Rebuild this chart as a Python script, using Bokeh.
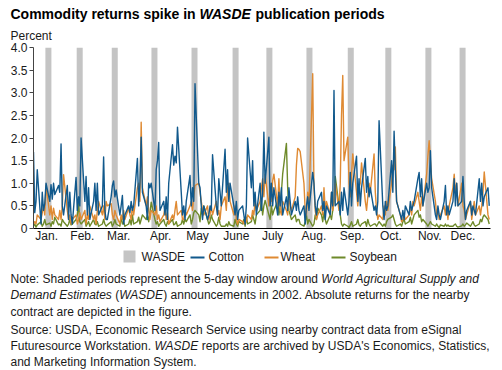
import pandas as pd
from bokeh.plotting import figure
from bokeh.layouts import column
from bokeh.models import Range1d, FixedTicker
from bokeh.core.properties import value
from bokeh.embed import file_html
from bokeh.resources import INLINE

YEAR = 2002

# ---------------- data ----------------
month_labels = ["Jan.", "Feb.", "Mar.", "Apr.", "May", "June",
                "July", "Aug.", "Sep.", "Oct.", "Nov.", "Dec."]
# day-of-year (0 = Jan 1) where each month label sits
month_label_days = [10.5, 39, 68, 101.5, 131, 162, 191, 224, 254.5, 285.5, 316.5, 343]

# 5-day WASDE windows (start day-of-year, length in days)
wasde_start_days = [9.5, 34.5, 62.5, 94.2, 126.2, 159, 186, 218, 251, 281, 313, 340.3]
wasde_window_days = 4.8

y_ticks = [0, 0.5, 1.0, 1.5, 2.0, 2.5, 3.0, 3.5, 4.0]
y_tick_labels = ["0", "0.5", "1.0", "1.5", "2.0", "2.5", "3.0", "3.5", "4.0"]

legend_labels = ["WASDE", "Cotton", "Wheat", "Soybean"]

# absolute daily returns (percent), one list per month of trading days
cotton = [
    [1.69, 0.35, 0.6, 1.3, 0.1, 0.8, 0.4, 0.55, 1.0, 0.6, 0.97, 0.65, 1.0, 0.75, 0.95, 0.8, 1.87, 0.5, 0.3, 0.95, 0.2, 0.8, 0.3],
    [0.1, 1.13, 0.4, 0.7, 0.5, 2.0, 0.6, 1.15, 0.3, 0.9, 0.2, 0.6, 1.0, 0.4, 1.0, 0.3, 0.5, 1.58, 0.4, 0.2],
    [0.2, 0.7, 0.95, 1.05, 0.7, 0.85, 0.3, 0.5, 0.73, 0.1, 0.3, 0.5, 0.35, 0.6, 0.4, 0.5, 1.55, 0.5, 1.0, 2.02, 0.8],
    [0.5, 0.2, 1.0, 0.9, 1.0, 0.4, 1.3, 1.5, 1.9, 0.4, 0.6, 0.3, 0.7, 0.2, 1.0, 1.85, 1.4, 1.6, 1.45, 2.24, 0.8, 0.3],
    [0.5, 0.2, 0.6, 1.17, 0.5, 0.9, 0.6, 3.2, 1.0, 0.9, 0.5, 0.2, 0.5, 0.2, 0.3, 0.5, 0.4, 1.63, 0.5, 0.3, 1.1, 0.8, 0.5],
    [1.75, 0.8, 1.3, 0.6, 1.0, 0.5, 0.3, 0.6, 0.2, 0.4, 0.5, 0.3, 0.1, 0.5, 2.0, 0.9, 1.5, 0.5, 0.8, 0.3],
    [1.0, 0.4, 0.8, 2.13, 1.0, 2.02, 0.5, 1.0, 0.5, 0.9, 0.3, 0.8, 0.5, 0.9, 0.3, 0.7, 0.4, 0.9, 0.6, 0.3, 0.6, 0.4, 0.7],
    [0.4, 0.3, 0.5, 0.1, 0.5, 0.7, 0.4, 1.24, 1.0, 0.5, 0.3, 0.6, 0.8, 0.4, 0.6, 0.2, 0.5, 0.3, 0.8, 0.5, 3.05, 0.5],
    [0.6, 0.3, 0.8, 0.4, 0.9, 0.3, 0.6, 1.24, 0.5, 1.0, 1.6, 0.6, 1.1, 0.5, 0.9, 1.55, 0.8, 1.15, 0.7, 0.9, 0.4],
    [0.5, 0.3, 0.6, 2.38, 0.5, 0.2, 0.6, 0.4, 0.5, 1.5, 0.8, 2.15, 1.3, 0.6, 0.3, 0.2, 0.4, 0.2, 0.5, 0.3, 0.6, 0.4, 0.5],
    [0.6, 1.1, 1.24, 0.7, 1.1, 0.5, 1.0, 0.8, 0.9, 1.72, 0.9, 0.3, 0.2, 0.5, 0.3, 0.2, 0.6, 0.95, 0.3, 0.5, 0.3],
    [0.6, 1.1, 0.5, 1.0, 0.5, 0.6, 1.15, 0.6, 0.2, 0.4, 0.6, 0.3, 0.5, 0.4, 0.3, 1.1, 0.6, 1.0, 0.5, 0.7, 0.9, 0.5],
]
wheat = [
    [0.1, 0.15, 0.1, 0.3, 0.2, 0.35, 0.5, 0.3, 0.95, 0.3, 0.5, 0.2, 0.45, 0.3, 0.2, 0.4, 0.2, 0.5, 1.19, 0.4, 0.2, 0.3, 0.1],
    [0.2, 0.3, 0.1, 0.2, 0.35, 0.2, 0.4, 0.1, 0.3, 0.2, 0.5, 0.2, 0.3, 0.1, 0.4, 0.6, 0.3, 0.5, 0.2, 0.6],
    [0.5, 0.55, 0.3, 0.2, 0.4, 0.3, 0.1, 0.3, 0.2, 0.4, 0.2, 0.45, 0.3, 0.2, 0.5, 0.3, 0.9, 1.0, 0.6, 2.35, 0.9],
    [0.5, 0.7, 0.4, 0.2, 0.4, 0.3, 0.5, 0.2, 0.3, 0.15, 0.3, 0.45, 0.2, 0.35, 0.1, 0.3, 0.2, 0.4, 0.6, 0.3, 0.4, 0.2],
    [0.2, 0.4, 0.3, 0.5, 0.6, 0.4, 0.7, 0.95, 1.0, 0.8, 0.6, 0.4, 0.3, 0.5, 0.2, 0.3, 0.5, 0.3, 0.6, 0.3, 0.4, 0.2, 0.5],
    [0.7, 0.4, 0.9, 1.0, 0.6, 0.3, 0.5, 0.2, 0.1, 0.2, 0.15, 0.1, 0.2, 0.15, 0.3, 0.2, 0.4, 0.3, 0.6, 0.4],
    [0.6, 0.9, 1.1, 0.7, 1.2, 0.5, 0.8, 0.6, 1.06, 1.2, 0.5, 1.1, 0.4, 0.3, 0.6, 0.4, 0.3, 0.7, 0.5, 0.4, 0.7, 1.4, 1.77],
    [1.75, 1.7, 1.0, 0.4, 0.3, 0.8, 0.5, 3.42, 0.9, 0.4, 0.2, 0.3, 0.5, 0.3, 0.9, 0.4, 0.6, 0.3, 0.8, 0.4, 0.6, 1.0],
    [0.4, 1.0, 2.5, 3.38, 1.5, 2.02, 1.0, 0.7, 1.2, 1.65, 0.8, 0.5, 0.9, 1.0, 1.45, 0.6, 0.4, 0.7, 1.0, 0.8, 1.65],
    [0.8, 0.4, 0.2, 0.3, 0.2, 0.5, 0.3, 0.6, 0.4, 1.0, 1.4, 1.3, 1.8, 0.6, 0.3, 0.15, 0.2, 0.3, 0.2, 0.3, 0.5, 0.3, 0.6],
    [0.5, 0.8, 0.6, 0.4, 0.7, 0.5, 1.2, 1.6, 1.94, 1.5, 1.1, 0.6, 0.3, 0.4, 0.2, 0.3, 0.5, 0.3, 0.5, 0.2, 0.5],
    [0.9, 1.2, 0.8, 1.0, 0.5, 1.0, 0.5, 0.4, 0.2, 0.3, 0.6, 0.2, 0.4, 0.6, 0.3, 0.5, 0.3, 0.5, 0.8, 1.25, 0.3, 0.2],
]
soybean = [
    [0.05, 0.1, 0.03, 0.08, 0.15, 0.05, 0.1, 0.2, 0.08, 0.12, 0.05, 0.15, 0.1, 0.25, 0.08, 0.1, 0.05, 0.2, 0.15, 0.05, 0.1, 0.2, 0.08],
    [0.1, 0.2, 0.3, 0.55, 0.15, 0.1, 0.2, 0.05, 0.1, 0.15, 0.05, 0.2, 0.1, 0.08, 0.15, 0.05, 0.1, 0.2, 0.1, 0.05],
    [0.08, 0.15, 0.05, 0.1, 0.2, 0.1, 0.05, 0.25, 0.1, 0.15, 0.05, 0.1, 0.2, 0.08, 0.3, 0.1, 0.15, 0.25, 0.1, 0.2, 0.3],
    [0.2, 0.3, 0.15, 0.35, 0.58, 0.2, 0.1, 0.15, 0.05, 0.1, 0.2, 0.1, 0.05, 0.15, 0.1, 0.2, 0.08, 0.1, 0.15, 0.05, 0.1, 0.2],
    [0.1, 0.2, 0.15, 0.3, 0.1, 0.2, 0.35, 0.4, 0.3, 0.15, 0.45, 0.3, 0.5, 0.2, 0.1, 0.15, 0.3, 0.2, 0.05, 0.1, 0.25, 0.1, 0.05],
    [0.05, 0.1, 0.05, 0.15, 0.08, 0.05, 0.2, 0.1, 0.05, 0.15, 0.1, 0.2, 0.05, 0.25, 0.1, 0.15, 0.3, 0.2, 0.1, 0.3],
    [0.4, 0.6, 0.3, 0.5, 0.62, 0.3, 0.2, 0.5, 0.3, 0.4, 0.6, 0.3, 0.5, 0.8, 1.2, 1.88, 0.9, 0.4, 0.3, 0.2, 0.3, 0.15, 0.2],
    [0.2, 0.1, 0.05, 0.15, 0.3, 0.1, 0.2, 0.05, 0.1, 0.3, 0.2, 0.45, 0.3, 0.15, 0.35, 0.2, 0.1, 0.3, 0.2, 0.4, 0.6, 1.15],
    [0.5, 0.3, 0.1, 0.05, 0.1, 0.05, 0.02, 0.08, 0.15, 0.05, 0.1, 0.2, 0.08, 0.05, 0.1, 0.15, 0.05, 0.2, 0.1, 0.05, 0.1],
    [0.1, 0.05, 0.1, 0.15, 0.05, 0.1, 0.05, 0.15, 0.2, 0.25, 0.3, 0.2, 0.1, 0.05, 0.1, 0.05, 0.15, 0.2, 0.1, 0.15, 0.25, 0.1, 0.2],
    [0.3, 0.4, 0.25, 0.3, 0.15, 0.2, 0.1, 0.05, 0.1, 0.15, 0.1, 0.05, 0.1, 0.05, 0.02, 0.08, 0.05, 0.1, 0.05, 0.08, 0.05],
    [0.05, 0.08, 0.1, 0.05, 0.03, 0.06, 0.1, 0.05, 0.08, 0.12, 0.05, 0.1, 0.15, 0.08, 0.05, 0.1, 0.2, 0.15, 0.25, 0.3, 0.2, 0.1],
]

# ---------------- helpers ----------------
jan1 = pd.Timestamp(YEAR, 1, 1)
month_days = []
for m in range(1, 13):
    start = pd.Timestamp(YEAR, m, 1)
    end = start + pd.offsets.MonthEnd(0)
    month_days.append([(d - jan1).days for d in pd.bdate_range(start, end)])


def series_xy(monthly):
    xs, ys = [], []
    for days, vals in zip(month_days, monthly):
        n = min(len(days), len(vals))
        xs += days[:n]
        ys += vals[:n]
    return xs, ys


FONT = "Liberation Sans"
TXT = "#1a1a1a"
GREY = "#c4c4c4"
C_COTTON = "#11598c"
C_WHEAT = "#df8a33"
C_SOY = "#6e8a2a"
LW = 1.4

W = 502
# vertical bands of the page (px): title band, chart band, notes band
TOP_H = 42
FL, FR, FT, FB = 33, 490, 47, 228      # chart frame on the page
CHART_H = 206
NOTE_Y0 = TOP_H + CHART_H
NOTE_H = 370 - NOTE_Y0
BASE_FIX = 0.375   # the svg text sits this many font-px below the asked baseline


def text_panel(h):
    f = figure(width=W, height=h, output_backend="svg", toolbar_location=None,
               title=None, x_range=Range1d(0, W), y_range=Range1d(h, 0),
               x_axis_type=None, y_axis_type=None, min_border=0,
               frame_align=False)
    f.outline_line_color = None
    f.background_fill_color = "white"
    return f


def put(f, y0, px, py, s, size=12, style="normal", color=TXT):
    f.text(x=[px], y=[py - y0 - BASE_FIX * size], text=[s], text_font=value(FONT),
           text_font_size=value(f"{size}px"), text_font_style=value(style),
           text_color=color, text_align="left", text_baseline="alphabetic")


# ---- title band ----
top = text_panel(TOP_H)
put(top, 0, 10, 19, "Commodity returns spike in", 14, "bold", "black")
put(top, 0, 199, 19, "WASDE", 14, "bold italic", "black")
put(top, 0, 255, 19, "publication periods", 14, "bold", "black")
put(top, 0, 10, 39.5, "Percent")

# ---- chart ----
p = figure(width=W, height=CHART_H, output_backend="svg", toolbar_location=None,
           title=None, x_range=Range1d(0, 365), y_range=Range1d(0, 4.0),
           min_border_left=FL, min_border_right=W - FR,
           min_border_top=FT - TOP_H, min_border_bottom=TOP_H + CHART_H - FB,
           frame_align=False)
p.outline_line_color = None
p.xgrid.visible = False
p.ygrid.visible = False

bars = p.quad(left=wasde_start_days,
              right=[s + wasde_window_days for s in wasde_start_days],
              bottom=0, top=4.0, fill_color=GREY, line_color=None)

xs, ys = series_xy(soybean)
p.line(xs, ys, line_color=C_SOY, line_width=LW, line_join="round")
xs, ys = series_xy(wheat)
p.line(xs, ys, line_color=C_WHEAT, line_width=LW, line_join="round")
xs, ys = series_xy(cotton)
p.line(xs, ys, line_color=C_COTTON, line_width=LW, line_join="round")

ya = p.yaxis[0]
ya.ticker = FixedTicker(ticks=y_ticks)
ya.major_label_overrides = dict(zip(y_ticks, y_tick_labels))
ya.major_tick_out = 4
ya.major_tick_in = 0
ya.minor_tick_out = 0
ya.minor_tick_in = 0
ya.axis_line_color = "#444444"
ya.major_tick_line_color = "#444444"
ya.major_label_standoff = 2
ya.major_label_text_font = FONT
ya.major_label_text_font_size = "12px"
ya.major_label_text_color = TXT

xa = p.xaxis[0]
xa.ticker = FixedTicker(ticks=month_label_days)
xa.major_label_overrides = dict(zip(month_label_days, month_labels))
xa.major_tick_out = 0
xa.major_tick_in = 0
xa.minor_tick_out = 0
xa.minor_tick_in = 0
xa.axis_line_color = "black"
xa.axis_line_width = 1.2
xa.major_label_standoff = 0
xa.major_label_text_font = FONT
xa.major_label_text_font_size = "12px"
xa.major_label_text_color = TXT

# ---- legend + notes band ----
nb = text_panel(NOTE_H)
y0 = NOTE_Y0
# legend swatches
nb.quad(left=[123], right=[135], top=[250 - y0], bottom=[262 - y0],
        fill_color=GREY, line_color=None)
for x_start, col in [(190, C_COTTON), (264, C_WHEAT), (331, C_SOY)]:
    nb.segment(x0=[x_start], x1=[x_start + 14], y0=[257 - y0], y1=[257 - y0],
               line_color=col, line_width=2)
for lx, lab in zip([141, 208, 280, 349], legend_labels):
    put(nb, y0, lx, 260.5, lab)

put(nb, y0, 10, 282.5, "Note: Shaded periods represent the 5-day window around")
put(nb, y0, 320.8, 282.5, "World Agricultural Supply and", style="italic")
put(nb, y0, 10, 299, "Demand Estimates", style="italic")
put(nb, y0, 114.7, 299, "(")
put(nb, y0, 118.7, 299, "WASDE", style="italic")
put(nb, y0, 162.7, 299, ") announcements in 2002. Absolute returns for the nearby")
put(nb, y0, 10, 315.5, "contract are depicted in the figure.")
put(nb, y0, 10, 333.5, "Source: USDA, Economic Research Service using nearby contract data from eSignal")
put(nb, y0, 10, 350, "Futuresource Workstation.")
put(nb, y0, 154.0, 350, "WASDE", style="italic")
put(nb, y0, 201.3, 350, "reports are archived by USDA's Economics, Statistics,")
put(nb, y0, 10, 366, "and Marketing Information System.")

layout = column(top, p, nb, spacing=0)
open("out.html", "w").write(file_html(layout, INLINE))
